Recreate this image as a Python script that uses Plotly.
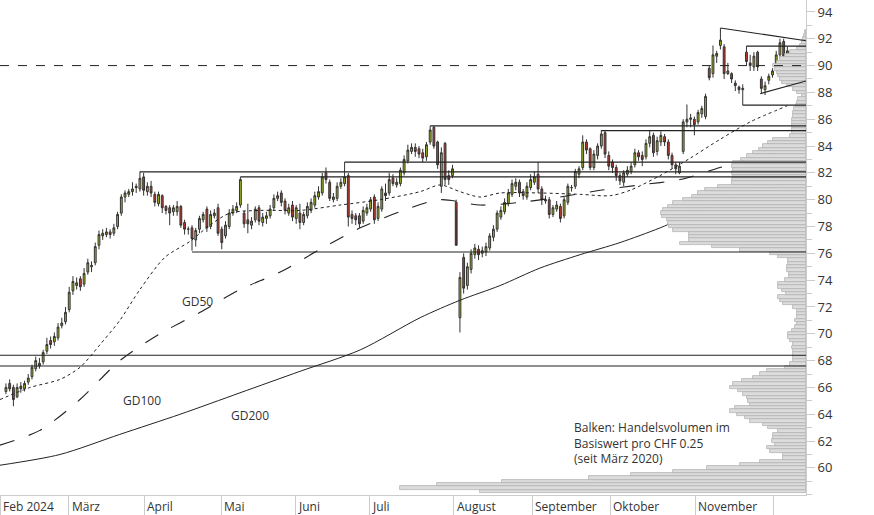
import plotly.graph_objects as go

# daily candles, Feb 2024 .. early Dec 2024 (trading-day index on x)
opens = [
    65.7, 66.3, 66.0, 65.3, 66.1, 65.9, 66.4, 66.8, 67.4, 67.6,
    67.9, 68.7, 69.5, 69.4, 69.7, 70.6, 70.9, 71.8, 73.2, 73.6,
    74.1, 73.7, 74.6, 75.0, 75.3, 76.6, 77.3, 77.4, 77.6, 77.5,
    78.0, 79.0, 80.2, 80.4, 80.6, 81.0, 80.8, 81.7, 80.6, 81.0,
    80.4, 79.7, 80.3, 79.5, 79.4, 79.1, 79.1, 79.5, 78.3, 77.8,
    77.9, 77.0, 77.8,
    78.5, 79.3, 78.0, 78.8, 79.4, 77.8, 77.3, 78.0, 79.0, 79.2,
    79.6, 79.0, 78.5, 78.1, 78.5, 79.4, 78.3, 78.6, 78.8, 79.4,
    80.1, 80.5, 79.9, 79.0, 79.6, 78.6, 79.0, 78.3, 78.8, 79.2,
    79.6, 80.2, 80.5, 82.0, 81.3, 80.0, 80.1, 81.0, 81.2, 81.8,
    78.9, 78.8, 78.8, 78.4, 79.0, 79.3, 80.2, 78.6, 79.3, 80.5,
    80.5, 81.6, 81.1, 81.2, 82.0, 82.9, 83.6, 83.9, 83.8, 83.5,
    83.2, 84.3, 85.4, 84.3, 81.0, 84.2, 81.8, 81.8,
    79.8, 71.2, 75.7, 73.6, 74.8, 75.9, 76.3, 76.0, 76.1, 76.4,
    77.2, 77.8, 78.7, 79.1, 79.7, 80.4, 81.0, 81.3, 80.6, 80.2,
    80.9, 81.3, 81.9, 80.8, 79.9, 80.0, 78.9, 79.3, 79.5, 78.8,
    79.8, 80.9, 81.0, 81.9, 82.4, 84.3, 83.8, 82.4, 83.3, 84.0,
    85.0, 83.3, 82.8, 82.4, 81.8, 81.3, 81.9, 82.1, 82.6, 83.5,
    83.3, 83.2, 84.2, 84.8, 83.6, 84.3, 84.7, 84.3, 83.3, 82.6,
    82.0,
    83.6, 85.8, 86.1, 86.0, 85.8, 86.4, 86.2, 89.8, 89.4, 90.7,
    91.5, 91.4, 89.4, 89.4, 88.7, 88.4, 88.2, 91.0, 90.2, 89.9,
    91.0, 89.0, 88.2, 88.9, 89.3, 89.9, 90.8, 91.8, 90.4, 90.6,
    90.3,
]
closes = [
    66.0, 65.9, 65.1, 66.0, 65.9, 66.3, 66.7, 67.5, 68.0, 67.8,
    68.6, 69.2, 69.2, 69.8, 70.5, 70.8, 71.6, 73.1, 73.9, 73.8,
    73.5, 74.5, 75.3, 75.1, 76.5, 77.4, 77.5, 77.6, 77.4, 77.9,
    78.9, 80.2, 80.5, 80.6, 80.8, 80.9, 81.6, 80.7, 81.0, 80.5,
    79.8, 80.4, 79.4, 79.2, 79.0, 79.4, 79.5, 78.1, 77.8, 77.8,
    77.1, 77.7, 78.6,
    78.9, 77.9, 78.9, 79.0, 77.5, 76.8, 78.1, 79.0, 79.3, 79.5,
    81.5, 78.2, 78.2, 78.4, 79.3, 78.4, 78.7, 78.8, 79.3, 80.1,
    80.3, 79.8, 79.2, 79.4, 78.7, 79.4, 78.3, 78.9, 79.5, 79.8,
    80.3, 80.6, 81.7, 81.5, 80.1, 80.2, 81.0, 81.3, 81.7, 78.7,
    78.6, 78.5, 78.2, 79.2, 79.4, 80.0, 78.5, 79.5, 80.8, 80.3,
    81.5, 81.2, 81.3, 82.2, 83.0, 83.7, 83.9, 83.6, 83.4, 83.1,
    84.1, 85.2, 84.0, 82.6, 83.5, 81.5, 81.5, 82.3,
    76.6, 74.2, 73.4, 75.0, 76.0, 76.4, 75.9, 76.2, 76.5, 77.3,
    77.8, 79.0, 79.2, 79.8, 80.5, 81.2, 81.3, 80.5, 80.3, 81.0,
    81.5, 81.7, 80.8, 80.0, 80.0, 78.9, 79.4, 79.6, 78.6, 80.0,
    81.0, 80.9, 82.1, 82.3, 84.3, 83.7, 82.4, 83.4, 84.0, 84.9,
    83.4, 82.5, 82.4, 81.8, 81.4, 82.0, 82.2, 82.5, 83.5, 83.2,
    83.0, 84.2, 84.7, 83.5, 84.4, 84.8, 84.3, 83.3, 82.6, 82.3,
    82.5,
    85.8, 86.0, 86.0, 85.6, 86.5, 86.8, 87.7, 89.1, 90.8, 90.9,
    91.9, 89.4, 89.6, 89.0, 88.5, 88.2, 88.3, 90.3, 90.0, 90.7,
    89.9, 88.3, 88.5, 89.2, 89.6, 90.8, 91.7, 90.7, 91.1, 90.0,
    88.5,
]
highs = [
    66.3, 66.6, 66.2, 66.3, 66.4, 66.5, 67.0, 67.7, 68.3, 68.2,
    68.8, 69.7, 69.8, 70.1, 70.8, 71.2, 72.0, 73.5, 74.3, 74.2,
    74.3, 74.9, 75.6, 75.4, 76.8, 77.7, 77.8, 77.9, 77.8, 78.2,
    79.1, 80.4, 80.7, 80.8, 81.3, 81.2, 82.1, 82.0, 81.3, 81.4,
    80.6, 80.6, 80.4, 79.6, 79.6, 79.6, 79.9, 79.6, 78.5, 78.0,
    78.1, 77.9, 78.8,
    79.1, 79.5, 79.2, 79.3, 79.7, 78.0, 78.4, 79.3, 79.6, 79.8,
    81.7, 79.2, 79.7, 78.7, 79.5, 79.6, 79.0, 79.1, 79.6, 80.4,
    80.6, 80.7, 80.1, 79.7, 79.9, 79.6, 79.7, 79.1, 79.8, 80.1,
    80.6, 81.0, 82.0, 82.4, 81.5, 80.5, 81.3, 81.6, 82.8, 82.0,
    79.2, 79.0, 79.0, 79.5, 79.7, 80.2, 80.4, 79.8, 81.0, 81.2,
    82.0, 81.9, 81.6, 82.4, 83.3, 84.1, 84.2, 84.2, 84.0, 83.8,
    84.3, 85.5, 85.5, 84.4, 83.9, 84.3, 82.2, 82.6,
    80.0, 74.6, 76.0, 75.3, 76.3, 76.7, 76.6, 76.5, 76.8, 77.5,
    78.1, 79.2, 79.5, 80.1, 80.8, 81.5, 81.6, 81.5, 80.8, 81.3,
    81.9, 82.1, 82.8, 81.0, 80.3, 80.2, 79.6, 79.9, 79.7, 80.2,
    81.2, 81.1, 82.3, 82.5, 84.8, 84.5, 83.9, 83.7, 84.2, 85.2,
    85.2, 83.6, 83.0, 82.6, 82.0, 82.2, 82.5, 82.8, 83.8, 83.7,
    83.6, 84.5, 85.2, 85.0, 84.7, 85.1, 84.9, 84.5, 83.5, 82.8,
    82.8,
    86.0, 87.1, 86.4, 86.2, 86.7, 87.0, 87.9, 90.0, 91.5, 91.1,
    92.8, 91.6, 90.2, 89.5, 88.9, 88.5, 88.6, 91.45, 90.8, 91.0,
    91.1, 89.2, 88.8, 89.4, 89.8, 91.1, 92.0, 92.0, 91.4, 90.9,
    90.5,
]
lows = [
    65.5, 65.7, 64.6, 65.2, 65.6, 65.7, 66.2, 66.6, 67.2, 67.4,
    67.7, 68.5, 68.9, 69.1, 69.5, 70.4, 70.7, 71.6, 72.9, 73.3,
    73.2, 73.5, 74.4, 74.6, 75.1, 76.3, 77.0, 77.2, 77.1, 77.3,
    77.8, 78.8, 79.8, 80.2, 80.3, 80.5, 80.6, 80.3, 80.3, 80.2,
    79.5, 79.5, 79.0, 78.9, 78.1, 78.8, 78.8, 77.9, 77.4, 77.4,
    76.2, 76.5, 77.5,
    78.3, 77.6, 77.8, 78.6, 77.3, 76.3, 77.1, 77.8, 78.8, 79.0,
    79.4, 77.9, 77.5, 77.8, 78.3, 78.1, 78.0, 78.2, 78.6, 79.2,
    79.9, 79.5, 78.9, 78.8, 78.4, 78.2, 77.8, 78.1, 78.6, 79.0,
    79.4, 80.0, 80.3, 81.2, 79.9, 79.8, 79.9, 80.8, 81.0, 78.0,
    78.2, 78.1, 77.9, 78.2, 78.8, 79.1, 78.2, 78.4, 79.1, 79.9,
    80.3, 81.0, 80.9, 81.0, 81.8, 82.7, 83.4, 83.2, 83.1, 82.8,
    82.9, 84.1, 83.8, 82.3, 80.5, 81.1, 81.1, 81.6,
    79.3, 70.1, 73.0, 73.3, 74.5, 75.6, 75.5, 75.7, 75.8, 76.2,
    76.9, 77.6, 78.5, 78.9, 79.5, 80.2, 80.7, 80.2, 80.0, 80.0,
    80.7, 81.1, 80.5, 79.6, 79.7, 78.6, 78.7, 79.1, 78.3, 78.6,
    79.6, 80.6, 80.8, 81.6, 82.2, 83.4, 82.2, 82.2, 83.0, 83.8,
    83.1, 82.2, 82.0, 81.4, 81.1, 81.0, 81.7, 81.9, 82.4, 82.9,
    82.5, 83.0, 83.9, 83.2, 83.3, 84.0, 84.0, 83.0, 82.3, 81.9,
    81.9,
    83.4, 85.4, 85.4, 84.8, 85.6, 86.1, 86.0, 88.9, 89.1, 90.2,
    91.2, 89.0, 89.3, 88.7, 88.1, 87.9, 87.05, 90.0, 89.6, 89.6,
    89.6, 87.9, 87.8, 88.6, 89.1, 89.6, 90.5, 90.2, 90.2, 89.8,
    88.3,
]
days = list(range(len(closes)))

# moving averages (trading-day index, price)
gd50_x = [-1.6, 6.5, 14.5, 19.9, 25.3, 30.6, 36.0, 42.7, 49.5, 54.8, 60.2, 68.3, 79.0, 89.8,
          100.5, 111.3, 116.7, 122.0, 127.4, 132.8, 143.5, 154.3, 162.4, 167.7, 175.8,
          183.9, 191.9, 200.0, 210.0]
gd50_y = [65.1, 66.0, 66.6, 67.5, 69.2, 71.0, 73.3, 75.7, 76.9, 78.1, 79.0, 79.2, 79.2, 79.6,
          80.0, 80.6, 81.1, 80.6, 80.2, 80.5, 80.5, 80.4, 80.3, 80.7, 81.8,
          83.1, 84.5, 85.8, 87.0]
gd100_x = [-1.6, 9.1, 19.9, 30.6, 41.4, 52.2, 62.9, 73.7, 84.4, 95.2, 105.9, 116.7, 127.4,
           138.2, 148.9, 159.7, 170.4, 181.2, 191.9, 202.7, 209.4]
gd100_y = [61.7, 62.8, 65.1, 68.0, 70.0, 71.6, 73.3, 74.6, 76.3, 77.9, 79.1, 80.0, 79.6,
           79.8, 80.2, 80.7, 81.1, 81.5, 82.4, 83.3, 83.6]
gd200_x = [-1.6, 14.5, 30.6, 46.8, 62.9, 79.0, 95.2, 111.3, 122.0, 132.8, 143.5, 154.3,
           165.0, 175.8, 186.6, 197.3, 210.8]
gd200_y = [60.2, 61.0, 62.5, 64.0, 65.6, 67.2, 68.8, 71.2, 72.5, 73.6, 74.9, 75.9,
           76.8, 77.9, 79.2, 80.3, 81.3]

# volume profile per CHF 0.25, from 58.25 upwards
vol_start = 58.25
volume = [
    326, 406, 369, 304, 217, 175, 133, 99, 66, 46, 23, 23, 36, 39, 31, 34, 33, 33, 28, 38,
    43, 56, 61, 69, 76, 71, 56, 58, 59, 63, 68, 76, 73, 64, 53, 46, 39, 21, 16, 13,
    13, 13, 13, 14, 13, 16, 18, 18, 14, 11, 9, 11, 9, 9, 9, 13, 23, 26, 28, 20,
    24, 28, 28, 21, 17, 17, 19, 19, 18, 18, 28, 36, 66, 94, 126, 117, 117, 117, 133, 137,
    138, 139, 144, 145, 143, 138, 133, 123, 114, 108, 101, 88, 74, 74, 73, 74, 73, 74, 73, 65,
    59, 53, 47, 43, 38, 33, 16, 14, 14, 14, 14, 14, 13, 13, 12, 10, 9, 8, 4, 9,
    13, 19, 24, 26, 28, 29, 31, 33, 29, 26, 21, 16, 9, 6, 4, 3, 2, 1,
]
price_bins = [vol_start + 0.25 * k for k in range(len(volume))]

# horizontal levels: (price, first day)
level_prices = [82.07, 81.7, 82.8, 85.5, 85.15, 76.1]
level_start = [36, 63, 91, 114, 160, 50]
support_prices = [68.4, 67.6]

month_pos = [-1.6, 16.9, 37.1, 57.8, 77.7, 97.6, 120.4, 141.4, 162.4, 185.2, 206.2]
month_names = ["Feb 2024", "März", "April", "Mai", "Juni", "Juli", "August",
               "September", "Oktober", "November", ""]

X_MAX = 215
FONT = "Open Sans"

fig = go.Figure()

fig.add_trace(go.Bar(
    y=price_bins, x=volume, orientation="h", xaxis="x2", width=0.25,
    marker=dict(color="#dcdcdc", line=dict(color="#b4b4b4", width=0.8)),
    showlegend=False, hoverinfo="skip"
))

for xs, ys, dash, w in [(gd200_x, gd200_y, "solid", 1), (gd100_x, gd100_y, "longdash", 1.1),
                        (gd50_x, gd50_y, "dot", 1)]:
    fig.add_trace(go.Scatter(x=xs, y=ys, mode="lines",
                             line=dict(color="#222", width=w, dash=dash, shape="spline", smoothing=0.8),
                             showlegend=False, hoverinfo="skip"))

fig.add_trace(go.Candlestick(
    x=days, open=opens, high=highs, low=lows, close=closes,
    increasing=dict(fillcolor="#a0b81c", line=dict(color="#333", width=1)),
    decreasing=dict(fillcolor="#c0392b", line=dict(color="#333", width=1)),
    whiskerwidth=0, showlegend=False
))

shapes = []
for p, s in zip(level_prices, level_start):
    shapes.append(dict(type="line", x0=s, x1=X_MAX, y0=p, y1=p, line=dict(color="#222", width=1.2)))
for p in support_prices:
    shapes.append(dict(type="line", x0=-1.6, x1=X_MAX, y0=p, y1=p, line=dict(color="#222", width=1.2)))
shapes.append(dict(type="line", x0=-1.6, x1=X_MAX, y0=90, y1=90, line=dict(color="#222", width=1, dash="dash")))
# triangle in november
shapes.append(dict(type="line", x0=192, x1=X_MAX, y0=92.8, y1=91.85, line=dict(color="#222", width=1.2)))
shapes.append(dict(type="line", x0=199, x1=X_MAX, y0=91.45, y1=91.45, line=dict(color="#222", width=1.2)))
shapes.append(dict(type="line", x0=198, x1=X_MAX, y0=87.05, y1=87.05, line=dict(color="#222", width=1.2)))
shapes.append(dict(type="line", x0=202.7, x1=X_MAX, y0=87.9, y1=88.85, line=dict(color="#222", width=1.2)))

annotations = []
for pos, name in zip(month_pos, month_names):
    annotations.append(dict(x=pos, y=0, yref="paper", text=name, showarrow=False, xanchor="left",
                            yanchor="top", xshift=1, yshift=-1, font=dict(size=12, color="#333", family=FONT)))
for txt, xv, yv in [("GD50", 51.5, 72.4), ("GD100", 36.5, 65.0), ("GD200", 65.5, 63.9)]:
    annotations.append(dict(x=xv, y=yv, text=txt, showarrow=False, font=dict(size=12, color="#333", family=FONT)))
annotations.append(dict(x=152, y=63.8, text="Balken: Handelsvolumen im<br>Basiswert pro CHF 0.25<br>(seit März 2020)",
                        showarrow=False, xanchor="left", yanchor="top", align="left",
                        font=dict(size=12, color="#333", family=FONT)))

fig.update_layout(
    width=874, height=515,
    margin=dict(l=0, r=68, t=0, b=20),
    paper_bgcolor="white", plot_bgcolor="white",
    font=dict(family=FONT, size=12, color="#333"),
    shapes=shapes, annotations=annotations,
    bargap=0,
    xaxis=dict(range=[-1.6, X_MAX], rangeslider=dict(visible=False), showgrid=False, zeroline=False,
               tickvals=month_pos, ticks="outside", ticklen=20, tickcolor="#ccc",
               showticklabels=False, showline=True, linecolor="#ccc"),
    xaxis2=dict(overlaying="x", range=[806, 0], visible=False),
    yaxis=dict(side="right", range=[57.98, 94.89], tickvals=list(range(60, 96, 2)), showgrid=False,
               zeroline=False, ticks="outside", ticklen=8, tickcolor="#ccc", showline=True,
               linecolor="#ccc", tickfont=dict(size=13, color="#333"),
               minor=dict(dtick=1, ticks="outside", ticklen=5, tickcolor="#ccc")),
)

fig.write_html("out.html", config={"displayModeBar": False},
               post_script="document.body.style.margin='0';")
